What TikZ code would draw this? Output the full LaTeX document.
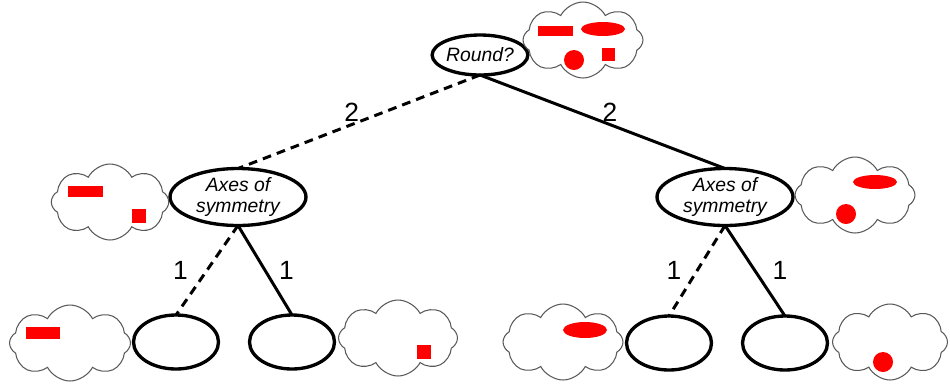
\documentclass[tikz,border=0pt]{standalone}
\usepackage{fontspec}
\setmainfont{Liberation Sans}
\usetikzlibrary{shapes.geometric,shapes.symbols}
\begin{document}
\begin{tikzpicture}[x=0.02cm,y=-0.02cm,inner sep=0pt,outer sep=0pt,very thick,
test/.style={draw,ellipse,line width=1.9pt,minimum width=2.72cm,minimum height=1.14cm,align=center,font=\fontsize{11}{12.5}\selectfont\itshape},
leaf/.style={draw,ellipse,line width=1.9pt,minimum width=1.7cm,minimum height=1.08cm},
bag/.style={draw=black!65,line width=0.6pt,cloud,cloud puffs=8,cloud puff arc=125,cloud ignores aspect,minimum width=2.35cm,minimum height=1.52cm},
item/.style={fill=red},
branch/.style={line width=1.7pt},
miss/.style={branch,dash pattern=on 5pt off 3.5pt},
wt/.style={font=\fontsize{15}{15}\selectfont}]
\useasboundingbox (0,0) rectangle (950,383);
% decision nodes
\draw (480,55) node[test,minimum width=1.6cm,minimum height=0.8cm] (round) {Round?};
\draw (238,197) node[test] (axl) {Axes of\\symmetry};
\draw (725,197) node[test] (axr) {Axes of\\symmetry};
\draw (176,342) node[leaf] (l1) {};
\draw (292,342) node[leaf] (l2) {};
\draw (669,343) node[leaf] (r1) {};
\draw (785,343) node[leaf] (r2) {};
% bags of shapes
\draw (583,40) node[bag,minimum width=2.4cm] (ball) {};
\fill[item] (538,26) rectangle (573,36);
\fill[item] (603,29) ellipse[x radius=22,y radius=7];
\fill[item] (574,60) circle[radius=10];
\fill[item] (602,48) rectangle (615,61);
\draw (110,202) node[bag] (bml) {};
\fill[item] (68,186) rectangle (103,197);
\fill[item] (132,209) rectangle (146,223);
\draw (855,195) node[bag,minimum width=2.4cm] (bmr) {};
\fill[item] (875,182) ellipse[x radius=22,y radius=7];
\fill[item] (846,214) circle[radius=10];
\draw (70,343) node[bag,minimum width=2.42cm] (b1) {};
\fill[item] (26,327) rectangle (60,339);
\draw (398,338) node[bag,minimum width=2.38cm] (b2) {};
\fill[item] (417,345) rectangle (431,359);
\draw (563,342) node[bag,minimum width=2.4cm] (b3) {};
\fill[item] (585,330) ellipse[x radius=22,y radius=8];
\draw (890,342) node[bag,minimum width=2.3cm] (b4) {};
\fill[item] (883,362) circle[radius=10];
% branches
\draw[miss] (round.south) -- (axl.north) node[wt,midway,above left=0pt] {2};
\draw[branch] (round.south) -- (axr.north) node[wt,midway,above right=0pt] {2};
\draw[miss] (axl.south) -- (l1.north) node[wt,midway,left=11pt] {1};
\draw[branch] (axl.south) -- (l2.north) node[wt,midway,right=8pt] {1};
\draw[miss] (axr.south) -- (r1.north) node[wt,midway,left=9pt] {1};
\draw[branch] (axr.south) -- (r2.north) node[wt,midway,right=10pt] {1};
\end{tikzpicture}
\end{document}
